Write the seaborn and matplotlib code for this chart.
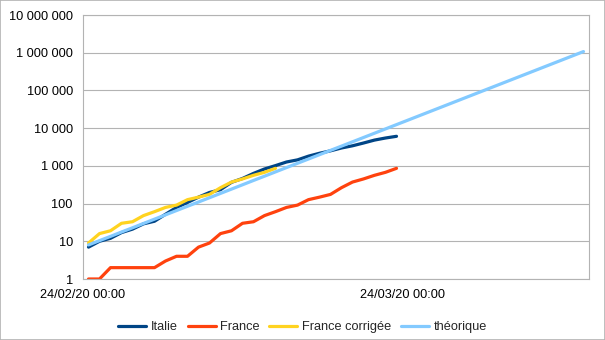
import numpy as np
import pandas as pd
import matplotlib
matplotlib.use("Agg")
import matplotlib.pyplot as plt
import matplotlib.dates as mdates
import matplotlib.transforms as mtransforms
from matplotlib.ticker import FixedLocator, FuncFormatter, NullLocator
import seaborn as sns

# ---------------- data ----------------
start_date = "2020-02-24"
series_names = ["Italie", "France", "France corrigée", "théorique"]
italie = [7, 10, 12, 17, 21, 29, 34, 52, 79, 107, 148, 197, 233, 366, 463, 631,
          827, 1016, 1266, 1441, 1809, 2158, 2503, 2978, 3405, 4032, 4825, 5476, 6077]
france = [1, 1, 2, 2, 2, 2, 2, 3, 4, 4, 7, 9, 16, 19, 30, 33, 48, 61, 79, 91,
          127, 148, 175, 264, 372, 450, 562, 674, 860]
france_corrigee = [9, 16, 19, 30, 33, 48, 61, 79, 91, 127, 148, 175, 264, 372,
                   450, 562, 674, 860]
theorique = [8, 10.4, 13.5, 17.6, 22.8, 29.7, 38.6, 50.2, 65.3, 84.8, 110, 143,
             186, 242, 315, 410, 532, 692, 900, 1170, 1520, 1977, 2570, 3340,
             4342, 5645, 7339, 9540, 12402, 16123, 20960, 27248, 35422, 46049,
             59864, 77823, 101170, 131521, 170977, 222270, 288951, 375636,
             488327, 634825, 825273, 1072855]
y_ticks = [1, 10, 100, 1000, 10000, 100000, 1000000, 10000000]
x_tick_dates = ["2020-02-24", "2020-03-24"]
x_tick_labels = ["24/02/20 00:00", "24/03/20 00:00"]
colors = ["#004586", "#ff420e", "#ffd320", "#83caff"]

# ---------------- frame ----------------
rows = []
for name, vals in zip(series_names, [italie, france, france_corrigee, theorique]):
    # LibreOffice places each daily point in the middle of its day slot
    dates = pd.date_range(start_date, periods=len(vals), freq="D") + pd.Timedelta(hours=12)
    rows.append(pd.DataFrame({"date": dates, "value": vals, "serie": name}))
df = pd.concat(rows, ignore_index=True)

sns.set_theme(style="white")
plt.rcParams["font.family"] = ["Liberation Sans", "DejaVu Sans"]
plt.rcParams["font.size"] = 9.2

W, H = 605, 340
fig = plt.figure(figsize=(W / 100, H / 100), dpi=100)
ax = fig.add_axes([83 / W, 1 - 279 / H, (589 - 83) / W, (279 - 15) / H])

sns.lineplot(data=df, x="date", y="value", hue="serie", hue_order=series_names,
             palette=colors, linewidth=2.3, ax=ax, legend=False, sort=False,
             estimator=None)

grid_c = "#b3b3b3"
ax.set_yscale("log")
ax.set_ylim(1, 1e7)
ax.yaxis.set_major_locator(FixedLocator(y_ticks))
ax.yaxis.set_minor_locator(NullLocator())
ax.yaxis.set_major_formatter(FuncFormatter(lambda v, p: f"{int(round(v)):,}".replace(",", " ")))

x0 = pd.Timestamp(start_date)
ax.set_xlim(x0, x0 + pd.Timedelta(days=46))
ax.set_xticks([pd.Timestamp(d) for d in x_tick_dates])
ax.set_xticklabels(x_tick_labels)
ax.xaxis.set_minor_locator(NullLocator())
shift = mtransforms.ScaledTranslation(4 / 100, 0, fig.dpi_scale_trans)
for lab in ax.get_xticklabels():
    lab.set_transform(lab.get_transform() + shift)

ax.grid(axis="y", color=grid_c, linewidth=0.8)
ax.grid(axis="x", visible=False)
for s in ax.spines.values():
    s.set_color(grid_c)
    s.set_linewidth(0.8)
ax.tick_params(axis="both", direction="out", length=4.3, width=0.8, color=grid_c,
               labelsize=9.2, labelcolor="black", pad=3)
ax.set_xlabel("")
ax.set_ylabel("")

handles = [plt.Line2D([], [], color=c, linewidth=2.3) for c in colors]
fig.legend(handles, series_names, loc="center", bbox_to_anchor=(0.5, 1 - 327 / H),
           ncol=4, frameon=False, fontsize=9.2, handlelength=2.2,
           handletextpad=0.35, columnspacing=0.75)

fig.patch.set_facecolor("white")
border = plt.Rectangle((0, 0), 1, 1, transform=fig.transFigure, fill=False,
                       edgecolor=grid_c, linewidth=1.2)
fig.add_artist(border)

fig.savefig("out.png", dpi=100)
